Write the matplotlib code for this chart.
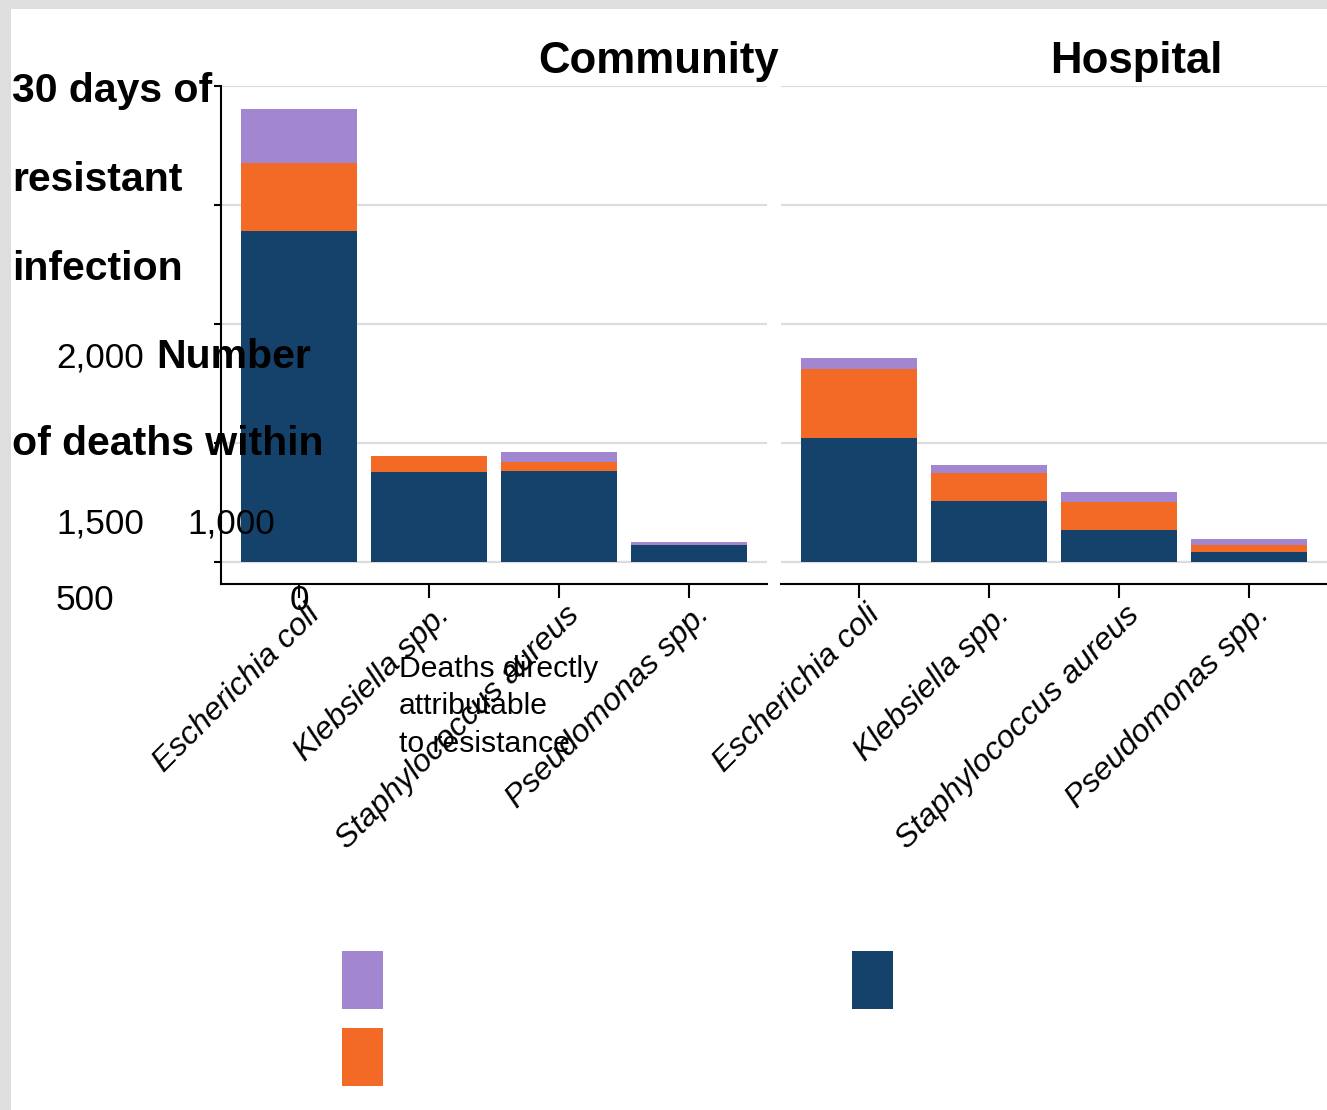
import matplotlib
matplotlib.use("Agg")
import matplotlib.pyplot as plt
from matplotlib.patches import Rectangle
import matplotlib.transforms as mtransforms
import numpy as np

plt.rcParams['font.family'] = ['Liberation Sans', 'DejaVu Sans']

#########
######### data #########
#########
pathogens = ["Escherichia coli", "Klebsiella spp.", "Staphylococcus aureus", "Pseudomonas spp."]
panels = ["Community", "Hospital"]

# navy part: deaths directly attributable to resistance
navy_comm = [1391, 378, 382, 71]
navy_hosp = [519, 257, 134, 40]
# orange part
orange_comm = [286, 67, 38, 0]
orange_hosp = [293, 118, 117, 32]
# purple part
purple_comm = [227, 0, 42, 13]
purple_hosp = [45, 32, 45, 24]

y_ticks = [0, 500, 1000, 1500, 2000]
y_tick_labels = ["0", "500", "1,000", "1,500", "2,000"]
ylabel_lines = ["30 days of", "resistant", "infection", "Number", "of deaths within"]
legend_lines = ["Deaths directly", "attributable", "to resistance"]

NAVY = "#15426b"
ORANGE = "#f26a26"
PURPLE = "#a286cf"
GRID = "#dcdcdc"

W, H = 1327, 1110


def fx(x):
    return x / W


def fy(y):
    return 1 - y / H


fig = plt.figure(figsize=(W / 100, H / 100), dpi=100)
fig.patch.set_facecolor("#dedede")
fig.patches.append(Rectangle((fx(11), 0), 1 - fx(11), fy(9), transform=fig.transFigure,
                             facecolor="white", edgecolor="none", zorder=-10))

ax_w = 546 / W
ax_b = fy(584)
ax_h = 498 / H
ax_left = fig.add_axes([fx(221), ax_b, ax_w, ax_h])
ax_right = fig.add_axes([fx(781), ax_b, ax_w, ax_h])

data = [(navy_comm, orange_comm, purple_comm), (navy_hosp, orange_hosp, purple_hosp)]
x = np.arange(len(pathogens))

for ax, (navy, orange, purple) in zip([ax_left, ax_right], data):
    navy = np.array(navy)
    orange = np.array(orange)
    purple = np.array(purple)
    ax.bar(x, navy, width=0.89, color=NAVY, linewidth=0, zorder=3)
    ax.bar(x, orange, width=0.89, bottom=navy, color=ORANGE, linewidth=0, zorder=3)
    ax.bar(x, purple, width=0.89, bottom=navy + orange, color=PURPLE, linewidth=0, zorder=3)
    ax.set_xlim(-0.6, 3.6)
    ax.set_ylim(-92.4, 2000)
    ax.set_yticks(y_ticks)
    ax.yaxis.grid(True, color=GRID, linewidth=1.6, zorder=0)
    ax.set_axisbelow(True)
    for s in ["top", "right"]:
        ax.spines[s].set_visible(False)
    ax.spines["bottom"].set_linewidth(1.5)
    ax.spines["left"].set_linewidth(1.5)
    ax.set_xticks(x)
    ax.set_xticklabels(pathogens, rotation=45, ha="right", va="center",
                       rotation_mode="anchor", fontsize=23, style="italic")
    ax.tick_params(axis="x", length=10, width=1.5, pad=9)
    ax.tick_params(axis="y", length=5, width=1.5, labelleft=False)
    offset = mtransforms.ScaledTranslation(16 / 100, 0, fig.dpi_scale_trans)
    for lab in ax.get_xticklabels():
        lab.set_transform(lab.get_transform() + offset)

ax_right.spines["left"].set_visible(False)
ax_right.tick_params(axis="y", length=0)

# panel titles
fig.text(fx(659), fy(73), panels[0], ha="center", va="baseline", fontsize=31.5, fontweight="bold")
fig.text(fx(1136), fy(73), panels[1], ha="center", va="baseline", fontsize=31.5, fontweight="bold")

# y axis title, broken over lines
ylab_pos = [(12, 102), (12, 191), (12, 280), (156, 368), (12, 455)]
for txt, (px, py) in zip(ylabel_lines, ylab_pos):
    fig.text(fx(px), fy(py), txt, ha="left", va="baseline", fontsize=29.5, fontweight="bold")

# y tick labels, scattered
ytl_pos = [(290, 610), (56, 610), (187, 533), (56, 533), (56, 368)]
for txt, (px, py) in zip(y_tick_labels, ytl_pos):
    fig.text(fx(px), fy(py), txt, ha="left", va="baseline", fontsize=25.3)

# legend
for i, txt in enumerate(legend_lines):
    fig.text(fx(399), fy(677 + 37.5 * i), txt, ha="left", va="baseline", fontsize=21.7)

swatches = [(PURPLE, 342, 951), (ORANGE, 342, 1028), (NAVY, 852, 951)]
for col, px, py in swatches:
    fig.patches.append(Rectangle((fx(px), fy(py + 58)), 41 / W, 58 / H, transform=fig.transFigure,
                                 facecolor=col, edgecolor="none"))

fig.savefig("out.png", dpi=100)
